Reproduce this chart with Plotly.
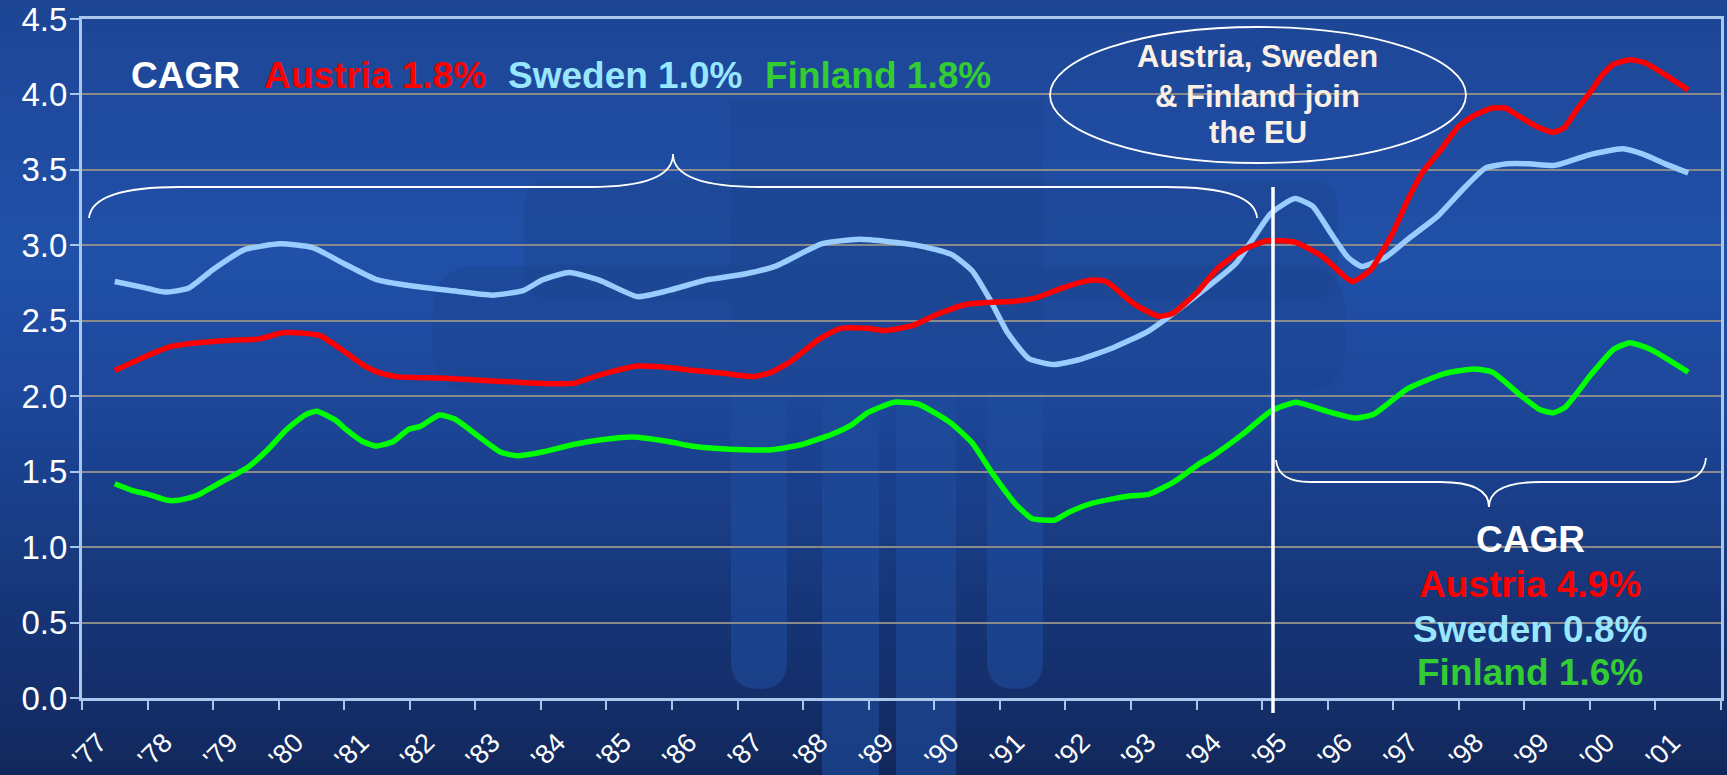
import plotly.graph_objects as go

# ---------------- data ----------------
tick_years = list(range(1977, 2002))
tick_labels = ["'%02d" % (y % 100) for y in tick_years]
y_tick_vals = [0.0, 0.5, 1.0, 1.5, 2.0, 2.5, 3.0, 3.5, 4.0, 4.5]

austria_x = [1977.00, 1977.45, 1977.86, 1978.27, 1978.73, 1979.20, 1979.55, 1979.78, 1980.14, 1980.49,
             1980.78, 1981.01, 1981.30, 1981.95, 1982.82, 1983.52, 1983.99, 1984.39, 1984.97, 1985.32,
             1985.85, 1986.32, 1986.75, 1987.02, 1987.31, 1987.75, 1988.07, 1988.48, 1988.74, 1989.18,
             1989.53, 1990.00, 1990.72, 1991.04, 1991.47, 1991.90, 1992.12, 1992.55, 1992.92, 1993.14,
             1993.51, 1993.83, 1994.21, 1994.58, 1995.01, 1995.44, 1995.87, 1996.16, 1996.49, 1996.72,
             1996.94, 1997.22, 1997.50, 1997.73, 1998.01, 1998.21, 1998.40, 1998.68, 1998.94, 1999.11,
             1999.30, 1999.53, 1999.69, 1999.86, 2000.11, 2000.34, 2000.65, 2001.00]
austria_y = [2.17, 2.26, 2.33, 2.355, 2.37, 2.38, 2.42, 2.42, 2.40, 2.30,
             2.21, 2.16, 2.13, 2.12, 2.10, 2.085, 2.085, 2.14, 2.20, 2.195,
             2.17, 2.15, 2.13, 2.16, 2.23, 2.38, 2.45, 2.45, 2.435, 2.47,
             2.54, 2.61, 2.63, 2.65, 2.72, 2.77, 2.76, 2.61, 2.53, 2.55,
             2.69, 2.85, 2.97, 3.03, 3.02, 2.92, 2.76, 2.84, 3.08, 3.30,
             3.48, 3.63, 3.79, 3.86, 3.91, 3.91, 3.86, 3.79, 3.75, 3.78,
             3.90, 4.03, 4.13, 4.20, 4.23, 4.21, 4.13, 4.03]

sweden_x = [1977.00, 1977.45, 1977.77, 1978.12, 1978.50, 1978.97, 1979.52, 1980.02, 1980.49, 1980.98,
            1981.54, 1982.12, 1982.76, 1983.23, 1983.52, 1983.93, 1984.39, 1984.97, 1985.44, 1986.02,
            1986.61, 1987.07, 1987.78, 1988.36, 1989.24, 1989.76, 1990.08, 1990.35, 1990.62, 1990.94,
            1991.32, 1991.69, 1992.22, 1992.76, 1993.51, 1994.10, 1994.63, 1995.00, 1995.27, 1995.55,
            1995.81, 1996.02, 1996.38, 1996.72, 1997.17, 1997.56, 1997.90, 1998.24, 1998.57, 1998.96,
            1999.24, 1999.53, 2000.00, 2000.31, 2000.65, 2001.00]
sweden_y = [2.76, 2.72, 2.69, 2.715, 2.84, 2.97, 3.01, 2.985, 2.88, 2.775,
            2.73, 2.70, 2.67, 2.70, 2.77, 2.82, 2.77, 2.66, 2.70, 2.77,
            2.81, 2.86, 3.01, 3.04, 3.00, 2.94, 2.83, 2.64, 2.42, 2.25,
            2.21, 2.24, 2.32, 2.43, 2.67, 2.88, 3.21, 3.31, 3.26, 3.08,
            2.92, 2.86, 2.92, 3.04, 3.19, 3.37, 3.51, 3.54, 3.54, 3.53,
            3.565, 3.605, 3.64, 3.605, 3.54, 3.48]

finland_x = [1977.00, 1977.27, 1977.51, 1977.80, 1977.97, 1978.24, 1978.62, 1979.03, 1979.32, 1979.61,
             1979.90, 1980.08, 1980.37, 1980.54, 1980.78, 1980.98, 1981.25, 1981.48, 1981.66, 1981.95,
             1982.18, 1982.53, 1982.88, 1983.14, 1983.52, 1983.99, 1984.39, 1984.90, 1985.44, 1985.79,
             1986.14, 1986.61, 1987.02, 1987.48, 1987.95, 1988.24, 1988.48, 1988.89, 1989.24, 1989.47,
             1989.76, 1990.08, 1990.40, 1990.75, 1990.99, 1991.34, 1991.57, 1991.90, 1992.22, 1992.51,
             1992.77, 1993.15, 1993.55, 1993.73, 1994.21, 1994.63, 1995.02, 1995.49, 1995.92, 1996.20,
             1996.72, 1997.28, 1997.73, 1998.01, 1998.46, 1998.74, 1998.94, 1999.13, 1999.53, 1999.86,
             2000.11, 2000.43, 2001.00]
finland_y = [1.42, 1.375, 1.35, 1.31, 1.31, 1.34, 1.43, 1.53, 1.64, 1.775,
             1.875, 1.90, 1.84, 1.775, 1.70, 1.67, 1.70, 1.78, 1.80, 1.875,
             1.85, 1.74, 1.63, 1.605, 1.63, 1.68, 1.71, 1.73, 1.70, 1.67,
             1.655, 1.645, 1.645, 1.68, 1.75, 1.81, 1.89, 1.96, 1.95, 1.90,
             1.82, 1.69, 1.48, 1.28, 1.19, 1.18, 1.235, 1.29, 1.32, 1.34,
             1.35, 1.43, 1.555, 1.60, 1.75, 1.90, 1.96, 1.90, 1.855, 1.88,
             2.05, 2.15, 2.18, 2.16, 2.00, 1.91, 1.89, 1.93, 2.15, 2.31,
             2.355, 2.31, 2.16]

cagr_before = [("CAGR", None), ("Austria", 1.8), ("Sweden", 1.0), ("Finland", 1.8)]
cagr_after = [("CAGR", None), ("Austria", 4.9), ("Sweden", 0.8), ("Finland", 1.6)]
eu_note = ["Austria, Sweden", "& Finland join", "the EU"]

# ---------------- styling ----------------
W, H = 1727, 775
L, R, T, B = 82, 6, 19, 77
PW = W - L - R
PH = H - T - B

FONT = "Liberation Sans, Arial, sans-serif"
AXIS_COL = "#A9C7EA"
GRID_COL = "#8A8A8A"
LINE_COLORS = {"Austria": "#FF0000", "Sweden": "#99CCFF", "Finland": "#00FF00"}
TEXT_COLORS = {"CAGR": "#FFFFFF", "Austria": "#FF0000", "Sweden": "#99E6FF", "Finland": "#33CC33"}


def fx(px):
    return (px - L) / PW


def fy(py):
    return (H - B - py) / PH


def pt(px, py):
    return "%.5f,%.5f" % (fx(px), fy(py))


fig = go.Figure()
for name, xs, ys in [("Sweden", sweden_x, sweden_y), ("Austria", austria_x, austria_y),
                     ("Finland", finland_x, finland_y)]:
    fig.add_trace(go.Scatter(x=xs, y=ys, mode="lines", name=name,
                             line=dict(color=LINE_COLORS[name], width=5.5, shape="spline", smoothing=0.5)))

shapes = []
# background gradient
stops = [(0, (29, 69, 148)), (120, (31, 75, 159)), (260, (32, 80, 168)), (400, (29, 71, 154)),
         (550, (24, 58, 128)), (700, (20, 46, 105)), (775, (18, 40, 92))]


def col_at(py):
    for (a, ca), (b, cb) in zip(stops[:-1], stops[1:]):
        if a <= py <= b:
            t = (py - a) / (b - a)
            return "rgb(%d,%d,%d)" % tuple(round(ca[i] + (cb[i] - ca[i]) * t) for i in range(3))
    return "rgb(%d,%d,%d)" % stops[-1][1]


step = 8
for py in range(0, H, step):
    shapes.append(dict(type="rect", xref="paper", yref="paper", x0=fx(-2), x1=fx(W + 2),
                       y0=fy(py + step + 1), y1=fy(py), fillcolor=col_at(py + step / 2),
                       line=dict(width=0), layer="below"))


# watermark
def rrect(x0, y0, x1, y1, r, round_top=True, round_bottom=True):
    rt = r if round_top else 0
    rb = r if round_bottom else 0
    p = "M " + pt(x0 + rt, y0)
    p += " L " + pt(x1 - rt, y0)
    p += " Q " + pt(x1, y0) + " " + pt(x1, y0 + rt)
    p += " L " + pt(x1, y1 - rb)
    p += " Q " + pt(x1, y1) + " " + pt(x1 - rb, y1)
    p += " L " + pt(x0 + rb, y1)
    p += " Q " + pt(x0, y1) + " " + pt(x0, y1 - rb)
    p += " L " + pt(x0, y0 + rt)
    p += " Q " + pt(x0, y0) + " " + pt(x0 + rt, y0) + " Z"
    return p


WM_UP = "rgba(28,68,142,0.45)"
WM_LOW = "rgba(32,76,156,0.6)"
for args, colr in [((524, 180, 1338, 300, 30, True, True), WM_UP),
                   ((433, 266, 1345, 392, 45, True, True), WM_UP),
                   ((731, 100, 1043, 330, 0, True, True), WM_UP),
                   ((731, 392, 787, 689, 28, False, True), WM_LOW),
                   ((822, 392, 879, 780, 0, False, False), WM_LOW),
                   ((896, 392, 956, 780, 0, False, False), WM_LOW),
                   ((987, 392, 1043, 689, 28, False, True), WM_LOW)]:
    shapes.append(dict(type="path", xref="paper", yref="paper", path=rrect(*args),
                       fillcolor=colr, line=dict(width=0), layer="below"))

# braces, ellipse, divider
top_brace = ("M " + pt(89, 218) + " Q " + pt(92, 187) + " " + pt(180, 187) + " L " + pt(590, 187)
             + " Q " + pt(673, 187) + " " + pt(673, 154) + " Q " + pt(673, 187) + " " + pt(760, 187)
             + " L " + pt(1166, 187) + " Q " + pt(1255, 187) + " " + pt(1257, 218))
bottom_brace = ("M " + pt(1276, 460) + " Q " + pt(1278, 482) + " " + pt(1310, 482) + " L " + pt(1440, 482)
                + " Q " + pt(1489, 482) + " " + pt(1489, 507) + " Q " + pt(1489, 482) + " " + pt(1540, 482)
                + " L " + pt(1672, 482) + " Q " + pt(1704, 482) + " " + pt(1706, 458))
for pth in (top_brace, bottom_brace):
    shapes.append(dict(type="path", xref="paper", yref="paper", path=pth,
                       line=dict(color="#FFFFFF", width=1.8), layer="above"))
shapes.append(dict(type="circle", xref="paper", yref="paper", x0=fx(1050), x1=fx(1466),
                   y0=fy(163), y1=fy(27), line=dict(color="#FFFFFF", width=1.8), layer="above"))
shapes.append(dict(type="line", xref="paper", yref="paper", x0=fx(1273), x1=fx(1273),
                   y0=fy(713), y1=fy(187), line=dict(color="#FFFFFF", width=3.5), layer="above"))

annotations = []


def label(text, cx, cy, color, size):
    annotations.append(dict(text="<b>%s</b>" % text, xref="paper", yref="paper", x=fx(cx), y=fy(cy),
                            xanchor="center", yanchor="middle", showarrow=False,
                            font=dict(family=FONT, size=size, color=color)))


top_cx = [185.5, 374.5, 624.5, 877.5]
for (name, val), cx in zip(cagr_before, top_cx):
    txt = name if val is None else "%s %.1f%%" % (name, val)
    label(txt, cx, 75, TEXT_COLORS[name], 37)

bottom_cy = [539.5, 584.5, 629.5, 672.5]
for (name, val), cy in zip(cagr_after, bottom_cy):
    txt = name if val is None else "%s %.1f%%" % (name, val)
    label(txt, 1530, cy, TEXT_COLORS[name], 37)

for txt, cy in zip(eu_note, [56, 96, 133]):
    label(txt, 1257.5, cy, "#FAF0E6", 31)

fig.update_layout(
    width=W, height=H,
    margin=dict(l=L, r=R, t=T, b=B, pad=0, autoexpand=False),
    paper_bgcolor="rgb(29,69,148)",
    plot_bgcolor="rgba(0,0,0,0)",
    showlegend=False,
    shapes=shapes,
    annotations=annotations,
    font=dict(family=FONT, color="#FFFFFF"),
    xaxis=dict(range=[1976.5, 2001.5], tickmode="array", tickvals=tick_years, ticktext=tick_labels,
               tickangle=-45, ticks="", showgrid=False, zeroline=False, automargin=False,
               showline=True, linecolor=AXIS_COL, linewidth=3, mirror=True,
               tickfont=dict(family=FONT, size=27, color="#FFFFFF"), ticklabelstandoff=15,
               ticklabelshift=-16, ticklabeloverflow="allow",
               minor=dict(tickmode="array", tickvals=[y - 0.5 for y in tick_years] + [2001.5],
                          ticks="outside", ticklen=9, tickwidth=2, tickcolor=AXIS_COL, showgrid=False)),
    yaxis=dict(range=[0, 4.5], tickmode="array", tickvals=y_tick_vals,
               ticktext=["%.1f" % v for v in y_tick_vals], automargin=False,
               ticks="outside", ticklen=9, tickwidth=2, tickcolor=AXIS_COL,
               showgrid=True, gridcolor=GRID_COL, gridwidth=2, zeroline=False,
               showline=True, linecolor=AXIS_COL, linewidth=3, mirror=True, ticklabeloverflow="allow",
               tickfont=dict(family=FONT, size=33, color="#FFFFFF"), ticklabelstandoff=-4),
)

fig.write_html("out.html", config={"displayModeBar": False},
               post_script="document.body.style.margin='0';document.body.style.overflow='hidden';")
